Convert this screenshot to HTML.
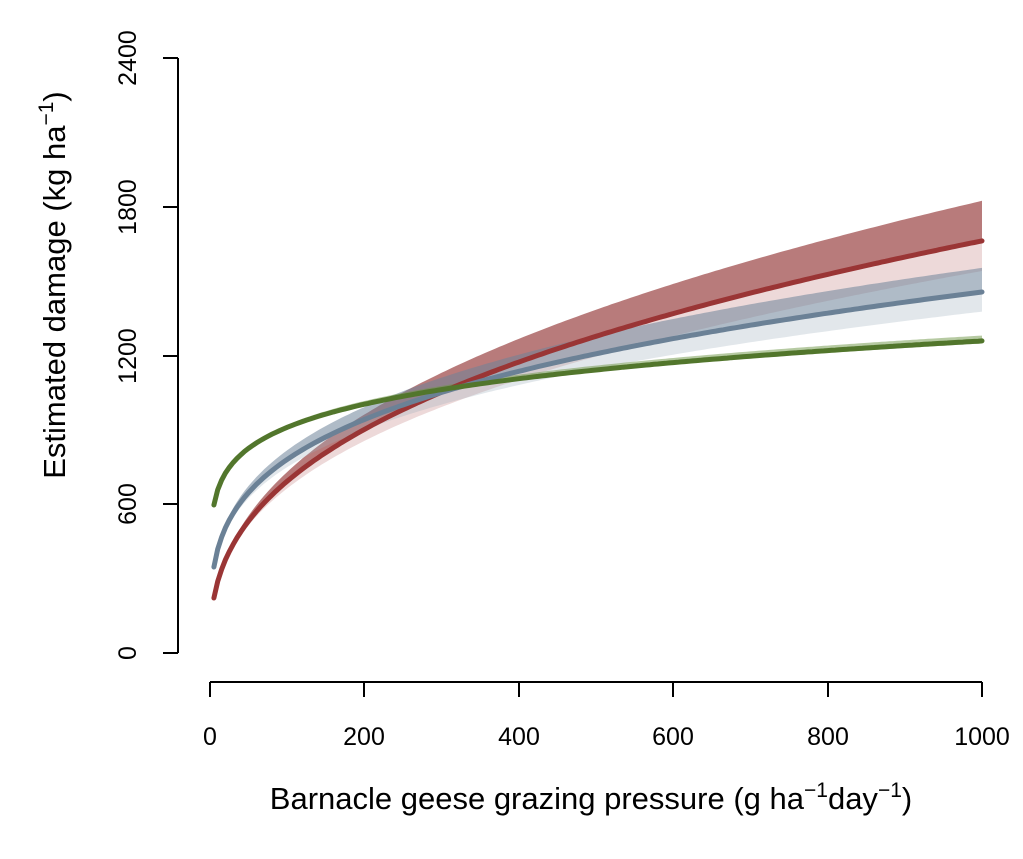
<!DOCTYPE html>
<html><head><meta charset="utf-8"><style>
html,body{margin:0;padding:0;background:#fff}
svg{display:block;font-family:"Liberation Sans",Arial,sans-serif}
</style></head><body>
<svg id="s" width="1023" height="859" viewBox="0 0 1023 859" xmlns="http://www.w3.org/2000/svg">
<g stroke="#000" stroke-width="2" fill="none">
<line x1="178" y1="58" x2="178" y2="653"/>
<line x1="163" y1="58" x2="178" y2="58"/>
<line x1="163" y1="207" x2="178" y2="207"/>
<line x1="163" y1="356" x2="178" y2="356"/>
<line x1="163" y1="504" x2="178" y2="504"/>
<line x1="163" y1="653" x2="178" y2="653"/>
<line x1="210" y1="682" x2="982" y2="682"/>
<line x1="210" y1="682" x2="210" y2="697"/>
<line x1="364" y1="682" x2="364" y2="697"/>
<line x1="519" y1="682" x2="519" y2="697"/>
<line x1="673" y1="682" x2="673" y2="697"/>
<line x1="828" y1="682" x2="828" y2="697"/>
<line x1="982" y1="682" x2="982" y2="697"/>
</g>
<g font-size="25" fill="#000" text-anchor="middle">
<text transform="translate(136,58) rotate(-90)">2400</text>
<text transform="translate(136,207) rotate(-90)">1800</text>
<text transform="translate(136,356) rotate(-90)">1200</text>
<text transform="translate(136,504) rotate(-90)">600</text>
<text transform="translate(136,653) rotate(-90)">0</text>
<text x="210" y="745">0</text>
<text x="364" y="745">200</text>
<text x="519" y="745">400</text>
<text x="673" y="745">600</text>
<text x="828" y="745">800</text>
<text x="982" y="745">1000</text>
</g>
<text font-size="31" text-anchor="middle" transform="translate(65,285) rotate(-90)">Estimated damage (kg  ha<tspan font-size="21" dy="-12">−1</tspan><tspan dy="12">)</tspan></text>
<text font-size="31" text-anchor="middle" x="591" y="809">Barnacle geese grazing pressure (g ha<tspan font-size="21" dy="-12">−1</tspan><tspan dy="12">day</tspan><tspan font-size="21" dy="-12">−1</tspan><tspan dy="12">)</tspan></text>
<g id="plot"></g>
</svg>
<script>
(function(){
var g=document.getElementById('plot');
function X(v){return 210+v*0.772;}
function Y(v){return 653-v*0.2479;}
function f(a,b){return function(x){return a*Math.pow(x/5,b);};}
function pts(fn){var p=[];for(var x=5;x<=1000;x+=5){p.push(X(x).toFixed(1)+','+Y(fn(x)).toFixed(1));}return p;}
function band(f1,f2,col){var a=pts(f1),b=pts(f2).reverse();
var e=document.createElementNS('http://www.w3.org/2000/svg','polygon');
e.setAttribute('points',a.concat(b).join(' '));e.setAttribute('fill',col);g.appendChild(e);}
function line(fn,col,w){var e=document.createElementNS('http://www.w3.org/2000/svg','polyline');
e.setAttribute('points',pts(fn).join(' '));e.setAttribute('fill','none');e.setAttribute('stroke',col);
e.setAttribute('stroke-width',w);e.setAttribute('stroke-linecap','round');g.appendChild(e);}
var rl=f(222,0.380),ru=f(222,0.3975),rlo=f(222,0.3657);
var bl=f(347,0.2707),bu=f(355,0.2786),blo=f(340,0.2640);
var gl=f(597,0.1408),gu=f(599,0.1434),glo=f(595,0.1399);
band(rl,ru,'rgba(150,60,60,0.68)');
band(rlo,rl,'rgba(190,120,120,0.28)');
band(bl,bu,'rgba(110,132,153,0.55)');
band(blo,bl,'rgba(160,175,190,0.30)');
band(glo,gu,'rgba(110,150,70,0.5)');
line(rl,'#9a3535',5);
line(bl,'#6b8196',5);
line(gl,'#52762c',5);
})();
</script>
</body></html>
